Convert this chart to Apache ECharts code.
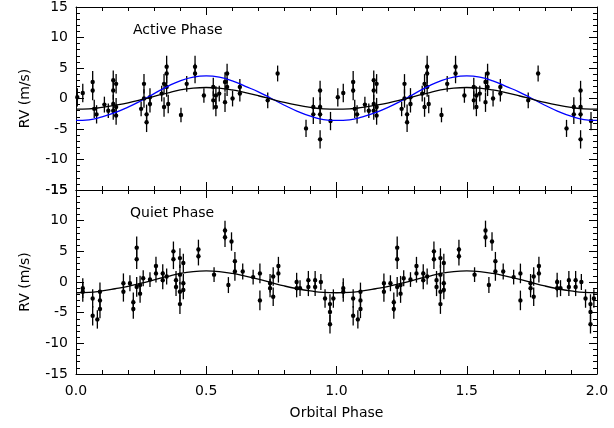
<!DOCTYPE html><html><head><meta charset="utf-8">
<script src="https://cdn.jsdelivr.net/npm/echarts@6/dist/echarts.min.js"></script>
<style>html,body{margin:0;padding:0;background:#fff}#c{width:614px;height:428px}</style></head>
<body><div id="c"></div><script>
// [phase, RV, error]
const activePts = [[0.026,0.9,1.5],[0.005,0.2,1.5],[0.064,2.7,1.8],[0.064,1.3,1.6],[0.07,-1.7,1.5],[0.079,-2.6,1.5],[0.109,-1,1.3],[0.124,-2,1.2],
[0.143,3,1.6],[0.143,1.3,1.5],[0.143,-0.9,1.5],[0.143,-2,1.5],[0.154,2.4,1.6],[0.154,-1.4,1.5],[0.154,-2.8,1.5],
[0.25,-1.7,1.2],[0.261,2.4,1.6],[0.261,0,1.5],[0.271,-2.6,1.6],[0.271,-3.9,1.6],[0.284,0.2,1.5],[0.284,-0.9,1.4],
[0.329,0.8,1.3],[0.338,2.4,1.6],[0.338,-1.4,1.6],[0.348,5.2,1.8],[0.348,4.1,1.6],[0.348,1.9,1.6],[0.354,-0.9,1.5],
[0.403,-2.7,1.2],[0.425,2.4,1.3],[0.457,5.2,1.8],[0.457,4.1,1.6],[0.491,0.5,1.2],[0.527,-0.3,1.5],[0.527,1.9,1.5],
[0.537,0.5,1.5],[0.537,-1.4,1.5],[0.55,0.8,1.3],[0.572,-0.6,1.6],[0.572,2.7,1.6],[0.58,4.1,1.6],[0.58,1.9,1.5],
[0.601,0,1.3],[0.629,1.9,1.3],[0.629,0.8,1.3],[0.736,-0.3,1.3],[0.774,4.1,1.3],[0.883,-4.9,1.4],[0.911,-1.4,1.6],
[0.911,-2.6,1.6],[0.937,1.3,1.6],[0.937,-1.4,1.6],[0.937,-2.6,1.6],[0.937,-6.7,1.5],[0.977,-3.7,1.5]];
const quietPts = [[0.026,-1,1.6],[0.026,-1.6,1.6],[0.064,-2.7,1.5],[0.064,-5.5,1.6],[0.082,-6.1,1.5],[0.092,-1.6,1.5],[0.092,-3,1.5],[0.092,-4.4,1.5],
[0.182,-0.2,1.6],[0.182,-1.6,1.6],[0.207,-0.2,1.3],[0.22,-3.3,1.6],[0.22,-4.4,1.6],[0.233,5.6,1.8],[0.233,3.7,1.6],[0.233,-0.8,1.6],
[0.246,-0.5,1.5],[0.246,-1.9,1.5],[0.258,0.6,1.3],[0.284,0.4,1.2],[0.307,2.6,1.5],[0.307,1.4,1.5],[0.333,1.4,1.5],[0.333,0.3,1.5],
[0.348,0.9,1.3],[0.374,5,1.6],[0.374,3.7,1.6],[0.384,0.3,1.5],[0.384,-0.8,1.5],[0.399,3.9,1.6],[0.399,1.2,1.6],[0.399,-1.6,1.6],
[0.399,-3.6,1.6],[0.412,3.1,1.5],[0.412,-0.2,1.5],[0.412,-1.3,1.5],[0.47,5.3,1.6],[0.47,4.2,1.5],[0.53,1.2,1.2],[0.572,8.4,1.6],
[0.572,7.3,1.6],[0.585,-0.5,1.3],[0.597,6.6,1.5],[0.61,3.4,1.5],[0.61,1.7,1.5],[0.64,1.7,1.3],[0.68,0.8,1.2],[0.706,1.4,1.6],
[0.706,-3,1.6],[0.745,-0.2,1.5],[0.745,-1,1.5],[0.757,0.9,1.5],[0.757,-2.4,1.5],[0.777,2.6,1.5],[0.777,1.4,1.5],[0.847,0,1.5],
[0.847,-1,1.5],[0.86,-1,1.3],[0.892,0.3,1.5],[0.892,-0.8,1.5],[0.918,0.3,1.5],[0.918,-0.8,1.5],[0.94,0,1.3],[0.956,-2.7,1.5],
[0.975,-3.6,1.6],[0.975,-4.9,1.6],[0.975,-6.9,1.5],[0.988,-2.7,1.5]];
// model curves read at phase steps of 0.05 over one cycle
const curvePhase = [0,0.05,0.1,0.15,0.2,0.25,0.3,0.35,0.4,0.45,0.5,0.55,0.6,0.65,0.7,0.75,0.8,0.85,0.9,0.95];
const blackCurve = [-1.75,-1.7,-1.45,-1.1,-0.7,-0.2,0.35,0.9,1.4,1.7,1.8,1.7,1.4,0.95,0.45,-0.1,-0.65,-1.1,-1.45,-1.7];
const blueCurve = [-3.6,-3.5,-3.0,-2.3,-1.4,-0.35,0.8,1.95,2.9,3.5,3.7,3.5,2.9,2.0,1.1,0.0,-1.1,-2.1,-2.9,-3.45];
const xTicks = ['0.0','0.5','1.0','1.5','2.0'];

const fold = a => a.concat(a.map(p => [p[0]+1, p[1], p[2]]));
const curve = v => { const out=[]; for (let k=0;k<2;k++) curvePhase.forEach((p,i)=>out.push([p+k,v[i]])); out.push([2,v[0]]); return out; };
const F = 'DejaVu Sans';
function errSeries(data, idx){
  return {type:'custom', xAxisIndex:idx*2, yAxisIndex:idx*2, data:data, z:3,
    renderItem:(params, api)=>{
      const x=api.value(0), y=api.value(1), e=api.value(2);
      const a=api.coord([x,y+e]), b=api.coord([x,y-e]), c=api.coord([x,y]);
      return {type:'group', children:[
        {type:'line', shape:{x1:a[0],y1:a[1],x2:b[0],y2:b[1]}, style:{stroke:'#000',lineWidth:1.3}},
        {type:'circle', shape:{cx:c[0],cy:c[1],r:2.2}, style:{fill:'#000'}}]};
    }};
}
function xa(grid, pos, labels){
  return {type:'value', gridIndex:grid, position:pos, min:0, max:2, interval:0.5,
    axisLine:{show:true,onZero:false,lineStyle:{color:'#000',width:1}},
    axisTick:{show:true,inside:true,length:8,lineStyle:{color:'#000'}},
    minorTick:{show:true,splitNumber:5,length:4,lineStyle:{color:'#000'}},
    splitLine:{show:false},
    axisLabel:{show:labels,color:'#000',fontFamily:F,fontSize:14,margin:10,formatter:v=>v.toFixed(1)},
    name: labels?'Orbital Phase':'', nameLocation:'middle', nameGap:32,
    nameTextStyle:{color:'#000',fontFamily:F,fontSize:14}};
}
function ya(grid, pos, labels){
  return {type:'value', gridIndex:grid, position:pos, min:-15, max:15, interval:5,
    axisLine:{show:true,onZero:false,lineStyle:{color:'#000',width:1}},
    axisTick:{show:true,inside:true,length:8,lineStyle:{color:'#000'}},
    minorTick:{show:true,splitNumber:5,length:4,lineStyle:{color:'#000'}},
    splitLine:{show:false},
    axisLabel:{show:labels,color:'#000',fontFamily:F,fontSize:14,margin:8},
    name: labels?'RV (m/s)':'', nameLocation:'middle', nameGap:44,
    nameTextStyle:{color:'#000',fontFamily:F,fontSize:14}};
}
const chart = echarts.init(document.getElementById('c'));
chart.setOption({
  backgroundColor:'#fff', animation:false,
  grid:[{left:76,right:17,top:6,height:184},{left:76,right:17,top:190,height:184}],
  xAxis:[xa(0,'bottom',false),xa(0,'top',false),xa(1,'bottom',true),xa(1,'top',false)],
  yAxis:[ya(0,'left',true),ya(0,'right',false),ya(1,'left',true),ya(1,'right',false)],
  graphic:[
    {type:'text',left:133,top:23,style:{text:'Active Phase',font:'14px "DejaVu Sans"',fill:'#000'}},
    {type:'text',left:130,top:206,style:{text:'Quiet Phase',font:'14px "DejaVu Sans"',fill:'#000'}}],
  series:[
    errSeries(fold(activePts),0),
    errSeries(fold(quietPts),1),
    {type:'line',xAxisIndex:0,yAxisIndex:0,data:curve(blueCurve),smooth:true,showSymbol:false,lineStyle:{color:'#0000ff',width:1.3},z:4},
    {type:'line',xAxisIndex:0,yAxisIndex:0,data:curve(blackCurve),smooth:true,showSymbol:false,lineStyle:{color:'#000',width:1.3},z:4},
    {type:'line',xAxisIndex:2,yAxisIndex:2,data:curve(blackCurve),smooth:true,showSymbol:false,lineStyle:{color:'#000',width:1.3},z:4}
  ]
});
</script></body></html>
